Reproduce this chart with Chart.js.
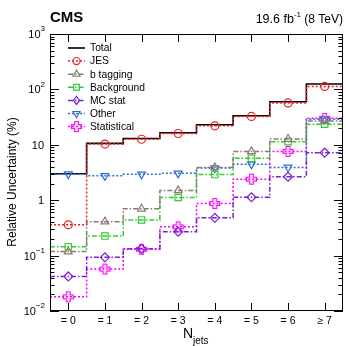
<!DOCTYPE html>
<html>
<head>
<meta charset="utf-8">
<script src="https://cdn.jsdelivr.net/npm/chart.js@4.4.1/dist/chart.umd.min.js"></script>
<style>
    html, body { margin: 0; padding: 0; background: #fff; }
    #wrap { width: 346px; height: 346px; }
</style>
</head>
<body>
<div id="wrap"><canvas id="chart" width="346" height="346"></canvas></div>
<script>
// Jet multiplicity bins
const categories = ['= 0', '= 1', '= 2', '= 3', '= 4', '= 5', '= 6', '\u2265 7'];

// Relative uncertainty (%) per bin
const total       = [3.0, 10.6, 13.0, 16.5, 23.0, 33.5, 60.0, 125];
const jes         = [0.36, 10.3, 12.6, 16.0, 22.0, 32.5, 57.0, 113];
const bTagging    = [0.118, 0.41, 0.70, 1.50, 3.9, 7.6, 12.7, 27.0];
const background  = [0.145, 0.225, 0.44, 1.12, 2.9, 5.7, 11.4, 23.5];
const mcStat      = [0.042, 0.093, 0.133, 0.27, 0.48, 1.13, 2.65, 7.2];
const other       = [2.95, 2.75, 2.93, 3.05, 3.8, 4.45, 3.9, 29.0];
const statistical = [0.018, 0.057, 0.13, 0.33, 0.87, 2.4, 7.6, 30.0];

// Y axis decades and their labels (base, exponent)
const yTickValues = [0.01, 0.1, 1, 10, 100, 1000];
const yTickLabels = [['10', '\u22122'], ['10', '\u22121'], ['1', ''], ['10', ''], ['10', '2'], ['10', '3']];

const FONT = '"Liberation Sans", Arial, Helvetica, sans-serif';

// Open "plus" marker used for the statistical series
function makePlus(color) {
    const c = document.createElement('canvas');
    c.width = 13; c.height = 13;
    const g = c.getContext('2d');
    const s = 5, w = 1.8;
    g.translate(6.5, 6.5);
    g.beginPath();
    g.moveTo(-w, -s); g.lineTo(w, -s); g.lineTo(w, -w); g.lineTo(s, -w);
    g.lineTo(s, w); g.lineTo(w, w); g.lineTo(w, s); g.lineTo(-w, s);
    g.lineTo(-w, w); g.lineTo(-s, w); g.lineTo(-s, -w); g.lineTo(-w, -w);
    g.closePath();
    g.strokeStyle = color;
    g.lineWidth = 1.2;
    g.stroke();
    return c;
}

const DOT = [2, 2];
const DASHDOT = [5, 2, 1.5, 2];

const series = [
    { label: 'Total', values: total, color: '#000000', dash: [], style: false, order: 10, width: 1.6 },
    { label: 'JES', values: jes, color: '#ee2222', dash: DOT, style: 'circle', radius: 4 },
    { label: 'b tagging', values: bTagging, color: '#8a7a70', dash: DASHDOT, style: 'triangle', radius: 4.5 },
    { label: 'Background', values: background, color: '#33cc33', dash: DASHDOT, style: 'rect', radius: 4.5 },
    { label: 'MC stat', values: mcStat, color: '#7a22d0', dash: DASHDOT, style: 'rectRot', radius: 4.5 },
    { label: 'Other', values: other, color: '#2a6fd6', dash: DOT, style: 'triangle', rotation: 180, radius: 4.5 },
    { label: 'Statistical', values: statistical, color: '#ff00ff', dash: DOT, style: makePlus('#ff00ff'), radius: 5 }
];

// Histogram-style points: bin edges (no marker) plus bin centres (marker)
function stepPoints(vals) {
    const pts = [];
    vals.forEach((v, i) => {
        pts.push({ x: i, y: v });
        pts.push({ x: i + 0.5, y: v });
    });
    pts.push({ x: vals.length, y: vals[vals.length - 1] });
    return pts;
}

const datasets = series.map((s, k) => ({
    label: s.label,
    data: stepPoints(s.values),
    stepped: 'before',
    borderColor: s.color,
    borderWidth: s.width || 1.5,
    borderDash: s.dash,
    fill: false,
    order: s.order || k,
    pointStyle: s.style,
    pointRotation: s.rotation || 0,
    pointBorderColor: s.color,
    pointBackgroundColor: 'rgba(0,0,0,0)',
    pointBorderWidth: 1.2,
    pointRadius: ctx => (s.style && ctx.dataIndex % 2 === 1) ? s.radius : 0,
    pointHoverRadius: 0
}));

// Draw a legend marker the same way as the chart points
function drawMarker(ctx, s, x, y) {
    if (!s.style) return;
    ctx.save();
    ctx.setLineDash([]);
    ctx.strokeStyle = s.color;
    ctx.lineWidth = 1.2;
    const r = s.radius * 0.9;
    ctx.beginPath();
    if (s.style instanceof HTMLCanvasElement) {
        ctx.drawImage(s.style, x - s.style.width / 2, y - s.style.height / 2);
        ctx.restore();
        return;
    } else if (s.style === 'circle') {
        ctx.arc(x, y, r, 0, Math.PI * 2);
    } else if (s.style === 'triangle') {
        const dir = s.rotation ? -1 : 1;
        ctx.moveTo(x, y - dir * r);
        ctx.lineTo(x + r * 0.866, y + dir * r * 0.5);
        ctx.lineTo(x - r * 0.866, y + dir * r * 0.5);
        ctx.closePath();
    } else if (s.style === 'rect') {
        const h = r * 0.707;
        ctx.rect(x - h, y - h, 2 * h, 2 * h);
    } else if (s.style === 'rectRot') {
        ctx.moveTo(x, y - r); ctx.lineTo(x + r * 0.75, y);
        ctx.lineTo(x, y + r); ctx.lineTo(x - r * 0.75, y);
        ctx.closePath();
    }
    ctx.stroke();
    ctx.restore();
}

// Frame, inward ticks, labels, legend and headers
const decorations = {
    id: 'decorations',
    afterDraw(chart) {
        const ctx = chart.ctx;
        const a = chart.chartArea;
        const xs = chart.scales.x;
        const ys = chart.scales.y;
        ctx.save();
        ctx.strokeStyle = '#000';
        ctx.fillStyle = '#000';
        ctx.lineWidth = 1;
        ctx.setLineDash([]);

        // frame
        ctx.strokeRect(a.left + 0.5, a.top + 0.5, a.right - a.left - 1, a.bottom - a.top - 1);

        // y ticks (left and right)
        ctx.beginPath();
        for (let d = -2; d <= 3; d++) {
            for (let m = 1; m <= 9; m++) {
                const v = m * Math.pow(10, d);
                if (v > 1000) break;
                const py = Math.round(ys.getPixelForValue(v)) + 0.5;
                const len = m === 1 ? 9 : 4.5;
                ctx.moveTo(a.left, py); ctx.lineTo(a.left + len, py);
                ctx.moveTo(a.right, py); ctx.lineTo(a.right - len, py);
            }
        }
        // x ticks (bottom and top) at bin centres
        categories.forEach((c, i) => {
            const px = Math.round(xs.getPixelForValue(i + 0.5)) + 0.5;
            ctx.moveTo(px, a.bottom); ctx.lineTo(px, a.bottom - 8);
            ctx.moveTo(px, a.top); ctx.lineTo(px, a.top + 8);
        });
        ctx.stroke();

        // x labels
        ctx.font = '10.5px ' + FONT;
        ctx.textAlign = 'center';
        ctx.textBaseline = 'middle';
        categories.forEach((c, i) => {
            ctx.fillText(c, xs.getPixelForValue(i + 0.5), a.bottom + 10);
        });

        // y labels
        yTickValues.forEach((v, i) => {
            const py = ys.getPixelForValue(v);
            const base = yTickLabels[i][0], exp = yTickLabels[i][1];
            let right = 45;
            if (exp) {
                ctx.font = '8px ' + FONT;
                ctx.textAlign = 'right';
                ctx.textBaseline = 'middle';
                ctx.fillText(exp, right, py - 5);
                right -= ctx.measureText(exp).width;
            } else {
                right = 44;
            }
            ctx.font = '11px ' + FONT;
            ctx.textAlign = 'right';
            ctx.fillText(base, right, py + 1);
        });

        // y title
        ctx.save();
        ctx.translate(13, 182);
        ctx.rotate(-Math.PI / 2);
        ctx.font = '12px ' + FONT;
        ctx.textAlign = 'center';
        ctx.textBaseline = 'middle';
        ctx.fillText('Relative Uncertainty (%)', 0, 0);
        ctx.restore();

        // x title N_jets
        ctx.font = '14px ' + FONT;
        ctx.textAlign = 'left';
        ctx.textBaseline = 'middle';
        ctx.fillText('N', 183, 334);
        ctx.font = '10px ' + FONT;
        ctx.fillText('jets', 193, 341);

        // header
        ctx.font = 'bold 15px ' + FONT;
        ctx.textAlign = 'left';
        ctx.fillText('CMS', 50, 18);
        ctx.font = '12px ' + FONT;
        ctx.textAlign = 'right';
        const tail = ' (8 TeV)';
        ctx.fillText(tail, 343, 20);
        let xr = 343 - ctx.measureText(tail).width;
        ctx.font = '8px ' + FONT;
        ctx.fillText('-1', xr, 15);
        xr -= ctx.measureText('-1').width;
        ctx.font = '12.5px ' + FONT;
        ctx.fillText('19.6 fb', xr, 20);

        // legend
        series.forEach((s, k) => {
            const ly = 48 + k * 13.1;
            ctx.save();
            ctx.strokeStyle = s.color;
            ctx.lineWidth = s.width || 1.5;
            ctx.setLineDash(s.dash);
            ctx.beginPath();
            ctx.moveTo(68, ly); ctx.lineTo(85, ly);
            ctx.stroke();
            ctx.restore();
            drawMarker(ctx, s, 76.5, ly);
            ctx.fillStyle = '#000';
            ctx.font = '10.3px ' + FONT;
            ctx.textAlign = 'left';
            ctx.textBaseline = 'middle';
            ctx.fillText(s.label, 90, ly + 0.5);
        });

        ctx.restore();
    }
};

new Chart(document.getElementById('chart'), {
    type: 'line',
    data: { datasets: datasets },
    options: {
        responsive: false,
        animation: false,
        layout: { padding: { left: 50, right: 3, top: 34, bottom: 35 } },
        scales: {
            x: { type: 'linear', min: 0, max: 8, display: false },
            y: { type: 'logarithmic', min: 0.01, max: 1000, display: false }
        },
        plugins: {
            legend: { display: false },
            tooltip: { enabled: false }
        }
    },
    plugins: [decorations]
});
</script>
</body>
</html>
